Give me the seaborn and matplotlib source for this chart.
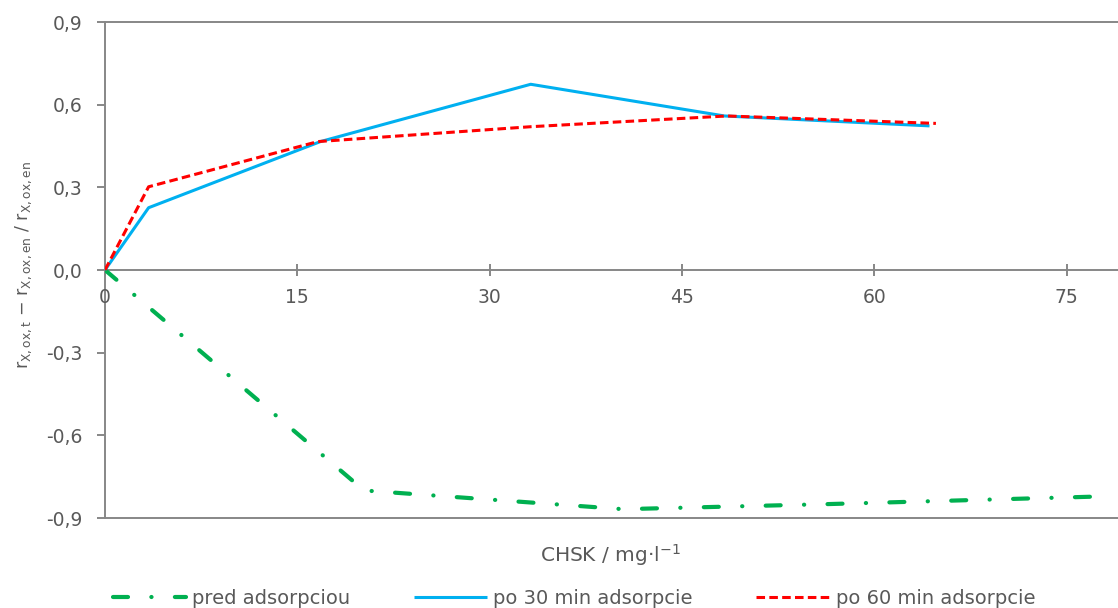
import numpy as np
import pandas as pd
import matplotlib
matplotlib.use("Agg")
import matplotlib.pyplot as plt
import seaborn as sns

# Measured series: COD concentration (mg/l) vs relative change of oxygen uptake rate
x_pred = [0, 20.2, 40.4, 56.0, 77.5]
y_pred = [0.0, -0.80, -0.868, -0.85, -0.822]

x_po30 = [0, 3.4, 16.8, 33.2, 48.3, 64.3]
y_po30 = [0.0, 0.226, 0.466, 0.674, 0.559, 0.523]

x_po60 = [0, 3.4, 16.6, 33.2, 48.5, 64.8]
y_po60 = [0.0, 0.302, 0.466, 0.52, 0.559, 0.532]

labels = ["pred adsorpciou", "po 30 min adsorpcie", "po 60 min adsorpcie"]
colors = ["#00B050", "#00B0F0", "#FF0000"]

xticks = [0, 15, 30, 45, 60, 75]
yticks = [-0.9, -0.6, -0.3, 0.0, 0.3, 0.6, 0.9]

sns.set_theme(style="white")
plt.rcParams["font.family"] = ["DejaVu Sans"]
plt.rcParams["mathtext.fontset"] = "dejavusans"

text_c = "#595959"
axis_c = "#878787"

fig = plt.figure(figsize=(11.18, 6.08), dpi=100)
ax = fig.add_axes([105 / 1118, 1 - 518 / 608, 1 - 105 / 1118, (518 - 22) / 608])

df = pd.concat([
    pd.DataFrame({"x": x_pred, "y": y_pred, "s": labels[0]}),
    pd.DataFrame({"x": x_po30, "y": y_po30, "s": labels[1]}),
    pd.DataFrame({"x": x_po60, "y": y_po60, "s": labels[2]}),
])

styles = {
    labels[0]: dict(lw=3.0, dashes=(3.6, 5.6, 0.05, 5.6), cap="round"),
    labels[1]: dict(lw=2.2, dashes=None, cap="butt"),
    labels[2]: dict(lw=2.2, dashes=(2.8, 1.4), cap="butt"),
}

for lab, col in zip(labels, colors):
    sub = df[df["s"] == lab]
    sns.lineplot(data=sub, x="x", y="y", ax=ax, color=col, label=lab,
                 sort=False, estimator=None)
    line = ax.get_lines()[-1]
    st = styles[lab]
    line.set_linewidth(st["lw"])
    if st["dashes"] is not None:
        line.set_dashes(st["dashes"])
        line.set_dash_capstyle(st["cap"])
    line.set_solid_capstyle("butt")
    line.set_zorder(3)

ax.set_xlim(0, 79)
ax.set_ylim(-0.9, 0.9)
ax.set_xticks(xticks)
ax.set_yticks(yticks)
ax.set_yticklabels([f"{v:.1f}".replace(".", ",") for v in yticks])
ax.set_xticklabels([str(v) for v in xticks])

# plot-area frame on left/top/bottom, horizontal axis crossing at zero
for side in ["left", "top", "bottom"]:
    ax.spines[side].set_color(axis_c)
    ax.spines[side].set_linewidth(1.4)
ax.spines["right"].set_visible(False)
ax.axhline(0, color=axis_c, lw=1.4, zorder=1)

ax.tick_params(axis="y", which="both", left=True, direction="out", length=5.5,
               width=1.4, color=axis_c, labelcolor=text_c, labelsize=13.5,
               pad=11)
ax.tick_params(axis="x", which="both", bottom=False, labelbottom=False)

# x ticks and labels sit on the zero line
for xv in xticks:
    ax.plot([xv, xv], [-0.022, 0.022], color=axis_c, lw=1.4, zorder=1,
            solid_capstyle="butt")
    ax.text(xv, -0.10, str(xv), ha="center", va="center", color=text_c,
            fontsize=13.5)

ax.set_xlabel("")
ax.set_ylabel("")
fig.text(610 / 1118, 1 - 555 / 608, "CHSK / mg·l$^{-1}$", ha="center",
         va="center", color=text_c, fontsize=14.5)
fig.text(24 / 1118, 1 - 265 / 608,
         r"r$_{\mathrm{X,ox,t}}$ − r$_{\mathrm{X,ox,en}}$ / r$_{\mathrm{X,ox,en}}$",
         rotation=90, ha="center", va="center", color=text_c, fontsize=12.5)

ax.get_legend().remove()
handles = ax.get_lines()[:3]
leg = fig.legend(handles, labels, loc="center", ncol=3,
                 bbox_to_anchor=(574 / 1118, 1 - 598 / 608), frameon=False,
                 fontsize=14, handlelength=3.75, handletextpad=0.35,
                 columnspacing=3.25, labelcolor=text_c,
                 borderpad=0, borderaxespad=0)

fig.savefig("out.png", dpi=100)
